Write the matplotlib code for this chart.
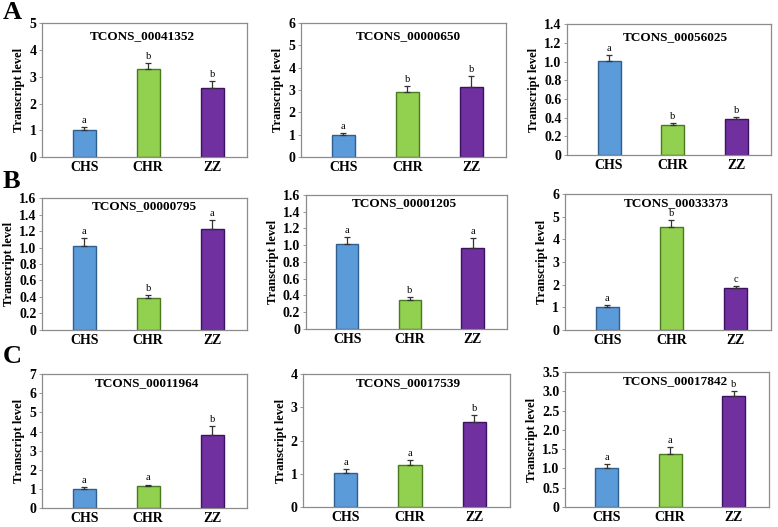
import numpy as np
import matplotlib
matplotlib.use("Agg")
import matplotlib.pyplot as plt
from matplotlib.ticker import FuncFormatter

plt.rcParams['font.family'] = ['Liberation Serif', 'DejaVu Serif']
plt.rcParams['font.weight'] = 'bold'

groups = ["CHS", "CHR", "ZZ"]
titles = ["TCONS_00041352", "TCONS_00000650", "TCONS_00056025",
          "TCONS_00000795", "TCONS_00001205", "TCONS_00033373",
          "TCONS_00011964", "TCONS_00017539", "TCONS_00017842"]
means = [[1.01, 3.28, 2.59],
         [1.00, 2.91, 3.16],
         [1.01, 0.32, 0.38],
         [1.02, 0.39, 1.22],
         [1.01, 0.35, 0.97],
         [1.01, 4.52, 1.86],
         [1.01, 1.16, 3.80],
         [1.03, 1.27, 2.57],
         [1.02, 1.37, 2.89]]
errors = [[0.11, 0.24, 0.25],
          [0.06, 0.28, 0.47],
          [0.06, 0.02, 0.025],
          [0.10, 0.03, 0.11],
          [0.09, 0.03, 0.12],
          [0.10, 0.33, 0.09],
          [0.09, 0.07, 0.48],
          [0.11, 0.14, 0.19],
          [0.10, 0.19, 0.13]]
letters = [["a", "b", "b"], ["a", "b", "b"], ["a", "b", "b"],
           ["a", "b", "a"], ["a", "b", "a"], ["a", "b", "c"],
           ["a", "a", "b"], ["a", "a", "b"], ["a", "a", "b"]]
ymax = [5, 6, 1.4, 1.6, 1.6, 6, 7, 4, 3.5]
ystep = [1, 1, 0.2, 0.2, 0.2, 1, 1, 1, 0.5]
row_labels = ["A", "B", "C"]

fill_colors = ["#5b9bd9", "#92d050", "#7030a0"]
edge_colors = ["#2f5f8f", "#4a7a1e", "#3c1260"]

# axes boxes in figure fraction [left, bottom, width, height]
boxes = [[0.054, 0.702, 0.264, 0.254], [0.387, 0.702, 0.264, 0.254], [0.729, 0.706, 0.262, 0.248],
         [0.054, 0.374, 0.264, 0.250], [0.393, 0.376, 0.259, 0.254], [0.726, 0.374, 0.265, 0.258],
         [0.054, 0.036, 0.264, 0.254], [0.390, 0.038, 0.265, 0.252], [0.726, 0.038, 0.262, 0.256]]
# title placement inside each axes (axes fraction)
title_pos = [(0.49, 0.90), (0.52, 0.90), (0.53, 0.90),
             (0.50, 0.94), (0.49, 0.94), (0.54, 0.935),
             (0.51, 0.93), (0.51, 0.935), (0.545, 0.93)]

fig = plt.figure(figsize=(7.78, 5.27), dpi=100)

x = np.arange(len(groups))
for i in range(9):
    ax = fig.add_axes(boxes[i])
    ax.bar(x, means[i], width=0.36, color=fill_colors, edgecolor=edge_colors, linewidth=1.0, zorder=2)
    ax.errorbar(x, means[i], yerr=[np.zeros(3), errors[i]], fmt='none', ecolor='#333333',
                elinewidth=0.9, capsize=2, capthick=0.9, zorder=3)
    for j in range(3):
        ax.text(x[j], means[i][j] + errors[i][j] + ymax[i] * 0.015, letters[i][j],
                ha='center', va='bottom', fontsize=7.5, fontweight='normal')
    ax.set_xlim(-0.66, 2.55)
    ax.set_ylim(0, ymax[i])
    ax.set_yticks(np.arange(0, ymax[i] + ystep[i] / 2, ystep[i]))
    dec = 0 if ystep[i] >= 1 else 1
    ax.yaxis.set_major_formatter(FuncFormatter(lambda v, p, d=dec: "0" if abs(v) < 1e-9 else f"{v:.{d}f}"))
    ax.set_xticks(x)
    ax.set_xticklabels(groups, fontsize=10, fontweight='bold')
    ax.tick_params(axis='y', labelsize=10, length=2, width=0.7, color='#999999', pad=2)
    ax.tick_params(axis='x', length=0, pad=3)
    for lbl in ax.get_yticklabels():
        lbl.set_fontweight('bold')
    for sp in ax.spines.values():
        sp.set_color('#8c8c8c')
        sp.set_linewidth(0.9)
    ax.set_ylabel("Transcript level", fontsize=9, fontweight='bold', labelpad=3)
    ax.text(title_pos[i][0], title_pos[i][1], titles[i], transform=ax.transAxes,
            ha='center', va='center', fontsize=9.5, fontweight='bold')

for r, lab in enumerate(row_labels):
    fig.text(0.004, [0.976, 0.655, 0.324][r], lab, fontsize=19, fontweight='bold', va='center', ha='left')

fig.savefig("out.png", dpi=100)
